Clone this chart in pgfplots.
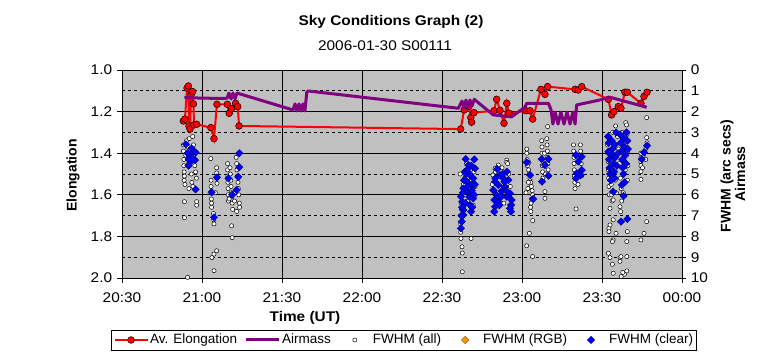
\documentclass[border=0pt]{standalone}
\usepackage{fontspec}
\setmainfont{Liberation Sans}[FakeStretch=1.1]
\newfontfamily\plainfont{Liberation Sans}
\usepackage{pgfplots}
\pgfplotsset{compat=1.18}
\definecolor{bggray}{RGB}{192,192,192}
\definecolor{amPurple}{RGB}{128,0,128}
\definecolor{elRed}{RGB}{255,0,0}
\definecolor{clBlue}{RGB}{0,0,255}
\definecolor{clEdge}{RGB}{0,0,128}
\definecolor{rgbOrange}{RGB}{255,153,0}
\definecolor{rgbEdge}{RGB}{153,80,0}

\pgfplotstableread{
m e
53.0 1.245
53.6 1.236
54.4 1.087
54.9 1.077
55.1 1.269
55.5 1.284
55.9 1.120
56.5 1.104
56.8 1.163
57.0 1.264
58.0 1.261
63.3 1.277
64.5 1.330
65.6 1.165
69.5 1.165
70.2 1.208
71.1 1.186
72.6 1.160
73.4 1.176
73.9 1.269
157.0 1.284
158.3 1.192
159.0 1.168
160.1 1.176
160.8 1.229
161.1 1.251
162.0 1.205
169.5 1.196
170.5 1.141
171.75 1.194
173.25 1.256
174.3 1.160
175.1 1.208
181.5 1.196
183.0 1.196
184.0 1.236
187.1 1.093
188.6 1.117
189.6 1.080
199.9 1.093
201.1 1.096
202.4 1.080
212.4 1.141
213.6 1.216
214.5 1.200
216.1 1.176
217.1 1.184
218.6 1.107
219.5 1.107
224.6 1.160
225.75 1.127
226.9 1.107
}\elongtable

\pgfplotstableread{
m a
53.4 1.32
59.25 1.35
68.6 1.37
69.4 1.35
70.1 1.11
70.9 1.39
71.6 1.11
72.4 1.39
73.1 1.11
74.25 1.15
94.1 1.92
94.9 1.63
95.6 1.97
96.4 1.63
97.1 1.97
97.9 1.63
98.6 1.97
99.3 1.06
99.9 1.01
156.1 1.84
157.5 1.49
158.25 1.83
159.0 1.44
159.75 1.83
160.5 1.44
161.25 1.73
162.1 1.41
169.2 2.16
176.1 2.25
181.1 1.79
181.8 1.60
189.9 1.60
190.9 1.92
191.6 2.60
192.4 2.02
193.5 2.60
194.6 2.02
195.75 2.60
196.9 2.02
198.0 2.60
199.1 2.02
199.9 2.60
200.5 1.68
209.25 1.44
213.0 1.31
226.75 1.79
}\airmasstable

\pgfplotstableread{
m f
53.0 3.6
53.0 3.9
53.2 4.3
53.2 4.6
53.3 4.9
53.4 5.1
53.3 5.3
53.6 5.5
53.9 4.1
54.2 3.4
54.5 3.7
54.8 4.2
55.0 4.5
55.2 3.3
55.5 3.8
55.8 4.4
56.0 5.0
56.2 5.4
56.5 3.2
56.8 3.6
57.0 4.1
57.3 4.6
57.6 4.9
57.9 5.2
56.6 5.6
55.1 5.7
53.4 6.33
53.4 7.1
58.0 6.33
58.0 6.5
54.6 9.97
63.3 4.26
63.4 5.3
63.4 5.6
63.5 5.9
63.5 6.2
63.6 6.4
63.6 6.6
65.5 4.7
65.5 4.95
65.6 5.2
65.6 5.45
64.3 6.9
64.4 7.2
64.5 7.4
63.7 9.02
64.5 8.85
65.5 8.69
64.5 9.65
65.0 5.9
69.6 4.5
69.6 4.8
69.7 5.1
69.7 5.4
69.8 5.7
69.8 6.0
69.9 6.3
70.5 4.7
70.6 5.0
70.8 5.3
70.9 5.6
71.0 5.9
71.2 6.1
71.3 6.4
71.5 6.7
70.2 6.2
72.8 4.2
73.0 4.5
73.1 4.8
73.3 5.1
73.5 5.4
73.6 5.7
73.8 6.0
74.0 6.4
74.1 6.6
72.5 5.9
72.2 6.3
71.1 7.49
71.3 8.06
73.0 6.8
156.8 5.0
158.0 5.5
157.2 6.4
157.3 6.7
157.0 7.0
157.0 7.4
157.0 7.8
157.1 8.1
157.5 8.5
157.6 8.8
157.6 9.7
160.9 8.1
161.5 6.0
161.7 6.5
160.2 6.0
159.2 4.5
160.7 4.8
162.4 5.6
158.5 5.2
159.6 5.8
161.0 5.3
162.0 4.9
159.8 6.3
174.3 4.33
174.3 4.44
171.1 4.57
169.9 4.73
175.6 5.6
169.1 5.05
170.0 4.9
172.5 4.7
174.6 4.5
175.0 5.0
170.8 5.9
173.2 6.4
168.9 5.5
181.8 3.8
181.8 4.0
181.9 4.3
182.0 4.6
182.5 4.8
182.7 5.0
183.0 5.2
183.3 5.4
183.5 5.6
183.8 5.8
184.0 6.0
183.6 6.2
183.4 6.4
183.2 6.6
183.3 6.8
182.4 5.4
182.2 5.7
181.5 5.9
182.6 4.45
184.0 7.24
182.75 7.85
181.75 8.45
184.0 8.97
187.4 3.4
187.5 3.7
187.5 4.0
187.6 4.3
187.6 4.6
187.7 4.9
187.8 5.2
188.4 4.0
188.6 4.5
188.8 5.0
189.3 3.3
189.4 3.6
189.5 3.9
189.6 4.2
189.7 4.5
189.8 4.8
189.9 5.1
188.6 5.85
188.6 6.17
189.6 2.72
199.3 3.6
199.4 3.9
199.5 4.2
199.5 4.5
199.6 4.8
199.7 5.1
199.8 5.4
199.9 5.7
201.9 3.6
202.0 3.9
202.1 4.2
202.2 4.5
202.3 4.8
202.3 5.1
201.0 5.5
200.25 6.68
212.0 3.2
212.1 3.6
212.2 4.0
212.3 4.4
212.4 4.8
212.5 5.2
212.6 5.6
212.7 6.0
212.9 3.4
213.0 3.9
213.2 4.6
213.3 5.0
213.5 5.5
213.6 6.0
213.8 6.3
214.0 3.0
214.2 3.5
214.5 4.2
214.8 4.8
215.0 5.3
215.1 2.69
215.4 5.9
215.8 3.2
216.2 3.8
216.5 4.5
216.9 5.2
217.2 5.7
217.6 3.0
218.0 3.5
218.2 4.0
218.5 4.4
218.7 4.8
218.9 2.53
219.2 2.64
219.4 3.1
219.6 3.9
219.7 4.6
219.5 5.3
218.0 5.9
217.4 6.3
214.2 6.25
213.0 6.65
216.75 6.57
217.0 6.81
214.2 7.2
212.6 7.61
212.6 7.77
214.2 8.17
219.5 7.77
219.3 8.25
212.4 8.81
213.0 9.02
213.9 9.34
216.75 9.02
219.3 8.97
214.2 9.77
217.2 9.93
218.4 9.82
219.3 9.66
213.0 7.45
215.25 7.85
213.9 8.25
217.1 8.97
216.75 9.2
217.8 9.73
226.75 2.29
226.75 3.25
226.9 3.5
226.5 3.77
226.0 3.9
225.5 4.1
224.6 4.0
224.6 4.2
224.6 4.41
224.6 4.6
224.6 4.89
224.6 5.26
225.2 4.7
226.4 4.3
226.75 7.29
225.75 7.85
224.6 8.17
}\alltable

\pgfplotstableread{
m f
54.0 3.57
56.1 3.77
54.6 4.0
56.7 3.96
57.6 3.96
55.5 4.17
57.4 4.33
55.8 4.41
54.9 4.6
57.6 5.74
56.4 4.25
55.0 4.3
65.6 5.16
63.6 5.88
64.5 7.08
69.9 5.21
74.0 4.0
74.0 4.67
73.6 5.14
73.0 5.77
71.3 6.0
158.9 4.28
162.1 4.30
159.9 4.57
162.4 4.73
158.6 4.89
160.5 5.05
161.7 5.21
159.3 5.37
160.9 5.53
158.0 5.69
159.9 5.85
157.1 6.09
161.7 6.17
157.6 6.33
160.5 6.49
158.0 6.73
160.9 6.81
158.0 6.97
157.4 7.29
157.1 7.61
159.0 5.0
161.0 4.6
162.3 5.5
158.3 5.3
160.2 6.1
158.8 6.4
157.8 5.9
161.2 5.8
159.5 4.8
157.5 6.6
157.3 7.0
162.0 6.0
161.3 6.6
159.4 5.6
170.7 4.76
174.3 4.89
171.75 5.05
173.0 5.21
169.9 5.37
174.9 5.29
171.1 5.53
173.6 5.61
169.2 5.77
172.4 5.82
175.5 5.93
170.5 6.01
174.3 6.09
169.6 6.25
176.1 6.25
171.1 6.33
169.9 6.57
175.9 6.49
169.6 6.81
175.9 6.81
175.5 6.65
172.1 6.1
173.4 5.37
170.0 5.2
172.8 5.0
174.0 5.8
171.5 6.5
181.75 4.44
183.0 5.05
184.2 6.2
187.4 4.28
189.9 4.28
188.6 4.57
187.5 5.37
189.9 5.08
200.25 4.09
202.4 4.17
201.1 4.41
202.4 4.81
200.5 4.97
202.0 5.05
200.25 5.21
212.4 3.93
212.3 3.2
212.5 3.5
212.6 4.3
212.8 4.7
213.0 5.0
213.3 5.3
213.6 3.4
213.9 3.8
214.1 4.1
214.3 4.5
214.5 4.9
214.2 5.85
214.8 3.6
215.0 4.2
215.3 3.0
216.8 3.1
217.0 3.5
217.3 3.9
217.6 4.3
217.8 4.7
218.0 5.0
218.2 3.3
218.5 3.7
218.8 4.1
219.0 4.5
219.2 3.0
219.5 3.4
219.7 3.8
217.4 5.53
218.1 6.06
217.1 7.29
219.5 7.16
218.5 5.4
216.0 4.0
215.6 4.6
213.2 4.0
214.7 5.2
226.9 3.64
225.75 3.96
224.9 4.29
}\cleartable

\begin{document}
\fontsize{14pt}{16pt}\selectfont
\begin{tikzpicture}
\path[use as bounding box] (-122pt,-81pt) rectangle (643pt,278pt);
\pgfplotsset{
  common/.style={scale only axis, width=560pt, height=208pt,
    xmin=30, xmax=240, enlargelimits=false, clip=false,
    at={(0pt,0pt)}, anchor=south west, y dir=reverse},
  legend image code/.code={\path[draw=none, fill=none] (0pt,-4pt) rectangle (33pt,4pt);
    \draw[mark repeat=2,mark phase=2,#1] plot coordinates {(0pt,0pt) (16.5pt,0pt) (33pt,0pt)};},
}
\begin{axis}[common, ymin=1, ymax=2,
  axis background/.style={fill=bggray, draw=gray},
  axis x line*=bottom, axis y line*=left,
  xtick={30,60,90,120,150,180,210,240},
  xticklabels={20:30,21:00,21:30,22:00,22:30,23:00,23:30,00:00},
  xticklabel style={yshift=-5pt},
  ytick={1.0,1.2,1.4,1.6,1.8,2.0},
  yticklabels={1.0,1.2,1.4,1.6,1.8,2.0},
  minor ytick={1.1,1.3,1.5,1.7,1.9},
  xmajorgrids, ymajorgrids, yminorgrids,
  major grid style={black, line width=0.8pt},
  minor grid style={black, line width=0.8pt, dash pattern=on 3pt off 3pt},
  tick align=outside, major tick length=5pt, minor tick length=0pt,
  tick style={black, line width=0.8pt},
  axis line style={black, line width=0.8pt},
]
\addplot[elRed, line width=2pt, mark=*, mark size=3.4pt,
  mark options={fill=elRed, draw=black, line width=0.5pt}]
  table[x=m, y=e] {\elongtable};
\end{axis}
\begin{axis}[common, ymin=0, ymax=10,
  axis x line=none, axis y line*=right,
  ytick={0,1,2,3,4,5,6,7,8,9,10},
  /pgf/number format/assume math mode=true,
  tick align=center, major tick length=8pt,
  tick style={black, line width=0.8pt},
  axis line style={black, line width=0.8pt},
  legend columns=5,
  legend cell align=left,
  legend style={at={(axis description cs:0.5036,-0.298)}, anchor=center,
    draw=black, fill=white, inner sep=2pt,
    font=\plainfont\fontsize{13.5pt}{15pt}\selectfont,
    nodes={inner xsep=1.5pt},
    /tikz/every even column/.append style={column sep=6pt}},
]
\addlegendimage{elRed, line width=2pt, mark=*, mark size=3.4pt,
  mark options={fill=elRed, draw=black, line width=0.5pt}}
\addlegendentry{Av. Elongation}
\addplot[amPurple, line width=3pt, line join=round] table[x=m, y=a] {\airmasstable};
\addlegendentry{Airmass}
\addplot[only marks, mark=*, mark size=2.1pt,
  mark options={fill=white, draw=black, line width=0.5pt}]
  table[x=m, y=f] {\alltable};
\addlegendentry{FWHM (all)}
\addlegendimage{only marks, mark=square*, mark size=2.6pt,
  mark options={fill=rgbOrange, draw=rgbEdge, line width=0.4pt, rotate=45}}
\addlegendentry{FWHM (RGB)}
\addplot[only marks, mark=square*, mark size=2.6pt,
  mark options={fill=clBlue, draw=clEdge, line width=0.4pt, rotate=45}]
  table[x=m, y=f] {\cleartable};
\addlegendentry{FWHM (clear)}
\end{axis}
\node[font=\bfseries] at (269pt,256pt) {Sky Conditions Graph (2)};
\node at (263pt,232pt) {2006-01-30 S00111};
\node[font=\plainfont\bfseries, rotate=90] at (-49pt,102.5pt) {Elongation};
\node[font=\plainfont\bfseries, rotate=90] at (605pt,102pt) {FWHM (arc secs)};
\node[font=\plainfont\bfseries, rotate=90] at (618pt,104pt) {Airmass};
\node[font=\bfseries] at (183pt,-40pt) {Time (UT)};
\end{tikzpicture}
\end{document}
